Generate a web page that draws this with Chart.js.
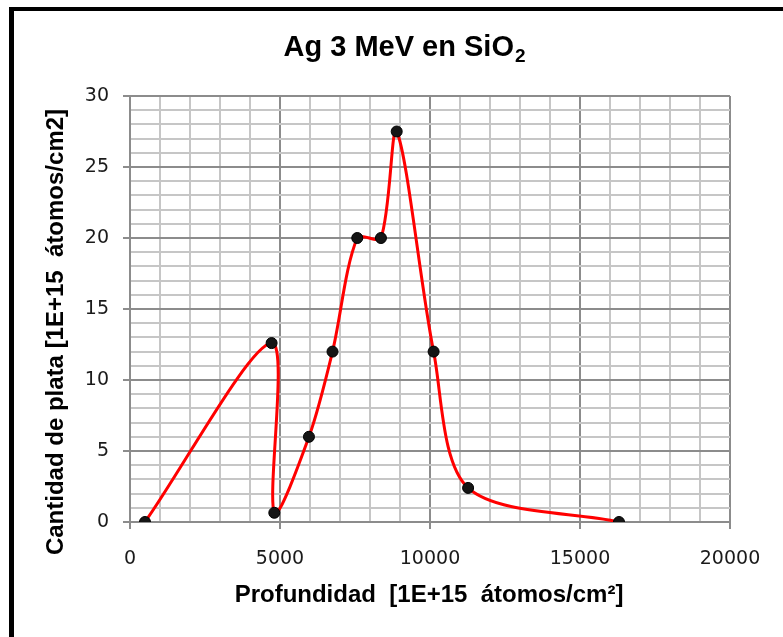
<!DOCTYPE html>
<html>
<head>
<meta charset="utf-8">
<script src="https://cdn.jsdelivr.net/npm/chart.js@4.4.1/dist/chart.umd.min.js"></script>
<style>
  html, body { margin: 0; padding: 0; background: #fff; overflow: hidden; }
  #wrap { position: relative; width: 783px; height: 637px; }
  #frame {
    position: absolute; left: 9px; top: 7px; width: 820px; height: 700px;
    border-top: 4px solid #000; border-left: 5px solid #000;
    pointer-events: none;
  }
  canvas { display: block; }
</style>
</head>
<body>
<div id="wrap">
  <canvas id="chart" width="783" height="637"></canvas>
  <div id="frame"></div>
</div>
<script>
// Silver depth profile: depth vs. amount of silver
const depth  = [500, 4720, 4810, 5965, 6750, 7575, 8365, 8890, 10120, 11270, 16300];
const silver = [0, 12.6, 0.65, 6, 12, 20, 20, 27.5, 12, 2.4, 0];

const xTicks = [0, 5000, 10000, 15000, 20000];
const yTicks = [0, 5, 10, 15, 20, 25, 30];

const titleMain = 'Ag 3 MeV en SiO';
const titleSub = '2';
const xTitle = 'Profundidad  [1E+15  átomos/cm²]';
const yTitle = 'Cantidad de plata [1E+15  átomos/cm2]';

const points = depth.map((d, i) => ({ x: d, y: silver[i] }));

const MAJOR = '#8c8c8c';
const MINOR = '#c6c6c6';

// Titles drawn directly so the subscript / spacing can be placed precisely
const titlesPlugin = {
  id: 'titles',
  afterDraw(chart) {
    const ctx = chart.ctx;
    ctx.save();
    ctx.fillStyle = '#000';
    ctx.textBaseline = 'alphabetic';

    // main title with subscript
    const mainFont = 'bold 29px "Liberation Sans", Arial, sans-serif';
    const subFont = 'bold 19px "Liberation Sans", Arial, sans-serif';
    ctx.font = mainFont;
    const wMain = ctx.measureText(titleMain).width;
    ctx.font = subFont;
    const wSub = ctx.measureText(titleSub).width;
    const x0 = 404 - (wMain + wSub) / 2;
    ctx.font = mainFont;
    ctx.textAlign = 'left';
    ctx.fillText(titleMain, x0, 56);
    ctx.font = subFont;
    ctx.fillText(titleSub, x0 + wMain + 1, 62);

    // x axis title
    ctx.font = 'bold 24px "Liberation Sans", Arial, sans-serif';
    ctx.textAlign = 'center';
    ctx.fillText(xTitle, 429, 602);

    // y axis title (rotated)
    ctx.translate(63, 332);
    ctx.rotate(-Math.PI / 2);
    ctx.fillText(yTitle, 0, 0);
    ctx.restore();
  }
};

new Chart(document.getElementById('chart'), {
  type: 'line',
  data: {
    datasets: [{
      data: points,
      borderColor: '#ff0000',
      borderWidth: 3,
      tension: 0.3,
      fill: false,
      pointRadius: 5.5,
      pointHoverRadius: 5.5,
      pointBackgroundColor: '#151515',
      pointBorderColor: '#000',
      pointBorderWidth: 1
    }]
  },
  options: {
    responsive: false,
    animation: false,
    events: [],
    layout: { padding: { left: 0, top: 96, right: 53, bottom: 0 } },
    plugins: {
      legend: { display: false },
      tooltip: { enabled: false },
      title: { display: false }
    },
    scales: {
      x: {
        type: 'linear',
        min: xTicks[0],
        max: xTicks[xTicks.length - 1],
        afterFit(scale) { scale.height = 115; },
        ticks: {
          stepSize: 1000,
          autoSkip: false,
          maxRotation: 0,
          padding: 19,
          color: '#1a1a1a',
          font: { family: '"DejaVu Sans", Verdana, sans-serif', size: 19 },
          callback: (v) => (xTicks.includes(v) ? String(v) : '')
        },
        grid: {
          color: (c) => (c.tick && xTicks.includes(c.tick.value) ? MAJOR : MINOR),
          lineWidth: 2,
          tickLength: 7,
          tickColor: (c) => (c.tick && xTicks.includes(c.tick.value) ? MAJOR : 'rgba(0,0,0,0)'),
          tickWidth: 2
        },
        border: { color: MAJOR, width: 2 }
      },
      y: {
        min: yTicks[0],
        max: yTicks[yTicks.length - 1],
        afterFit(scale) { scale.width = 130; },
        ticks: {
          stepSize: 1,
          autoSkip: false,
          padding: 14,
          color: '#1a1a1a',
          font: { family: '"DejaVu Sans", Verdana, sans-serif', size: 19 },
          callback: (v) => (yTicks.includes(v) ? String(v) : '')
        },
        grid: {
          color: (c) => (c.tick && yTicks.includes(c.tick.value) ? MAJOR : MINOR),
          lineWidth: 2,
          tickLength: 7,
          tickColor: (c) => (c.tick && yTicks.includes(c.tick.value) ? MAJOR : 'rgba(0,0,0,0)'),
          tickWidth: 2
        },
        border: { color: MAJOR, width: 2 }
      }
    }
  },
  plugins: [titlesPlugin]
});
</script>
</body>
</html>
